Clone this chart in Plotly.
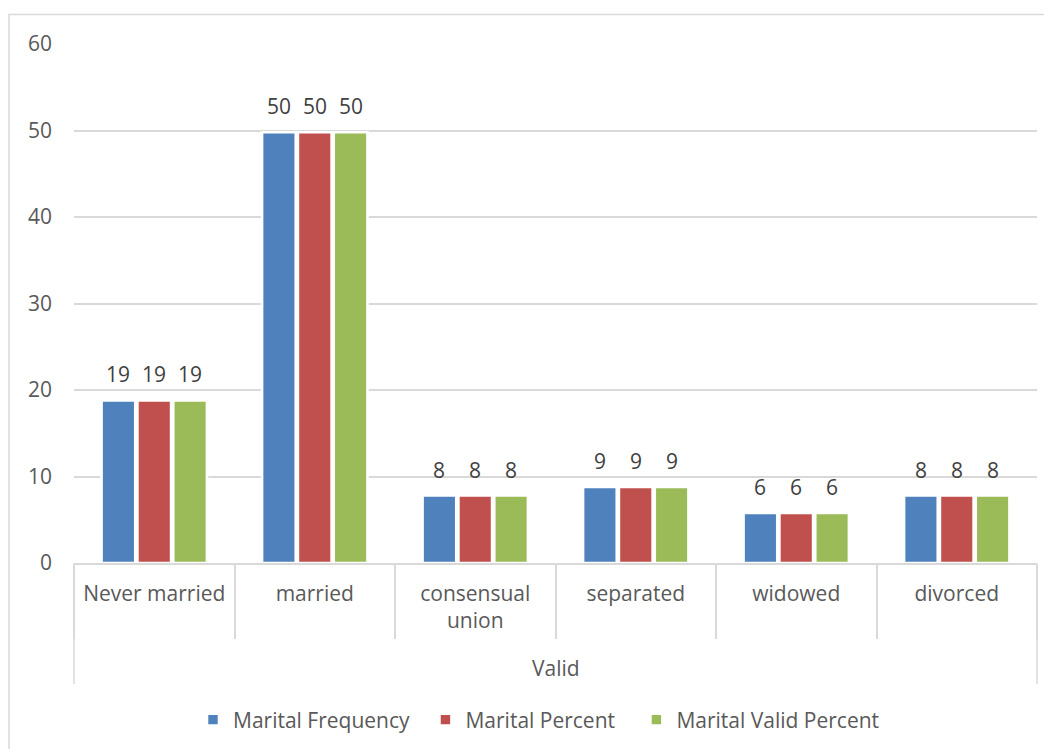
import plotly.graph_objects as go

# ---- data ----
categories = ["Never married", "married", "consensual<br>union", "separated", "widowed", "divorced"]
group_label = "Valid"
series_names = ["Marital Frequency", "Marital Percent", "Marital Valid Percent"]
marital_frequency = [18.8, 49.8, 7.8, 8.8, 5.8, 7.8]
marital_percent = [18.8, 49.8, 7.8, 8.8, 5.8, 7.8]
marital_valid_percent = [18.8, 49.8, 7.8, 8.8, 5.8, 7.8]
y_ticks = [0, 10, 20, 30, 40, 50, 60]

series_values = [marital_frequency, marital_percent, marital_valid_percent]
colors = ["#4F81BD", "#C0504D", "#9BBB59"]

# page has an 8px body margin; figure is sized to fill the rest of the window
PAGE_OFF = 8
W, H = 1052 - PAGE_OFF, 749 - PAGE_OFF
ML, MR, MT, MB = 74 - PAGE_OFF, 15, 44 - PAGE_OFF, 186
plot_w = W - ML - MR
plot_h = H - MT - MB
AXIS_Y = PAGE_OFF + MT + plot_h  # page y of the category axis


def page_y_to_paper(py):
    return (AXIS_Y - py) / plot_h


def page_x_to_paper(px):
    return (px - PAGE_OFF - ML) / plot_w


BARGAP = 0.33
FONT = "Open Sans"
TXT = "#595959"
GRID = "#D9D9D9"
FS = 21

fig = go.Figure()
for k, (name, vals, col) in enumerate(zip(series_names, series_values, colors)):
    pad = "\u00a0\u00a0" if k == 0 else "\u00a0\u00a0\u00a0"
    fig.add_trace(go.Bar(
        x=categories, y=vals, name=name + pad,
        marker=dict(color=col, line=dict(color="white", width=2.6)),
        hovertemplate=name + ": %{y}<extra></extra>",
    ))

# data labels above each bar
cat_px = plot_w / len(categories)
slot = (1 - BARGAP) * cat_px / len(series_names)
annotations = []
for j, vals in enumerate(series_values):
    off = (j - (len(series_names) - 1) / 2) * slot
    for c, v in zip(categories, vals):
        annotations.append(dict(
            x=c, y=v, xref="x", yref="y", text=f"{v:.0f}", showarrow=False,
            xanchor="center", yanchor="bottom", xshift=off, yshift=10,
            font=dict(family=FONT, size=FS, color="#404040"),
        ))

# group label
annotations.append(dict(
    x=0.5, y=page_y_to_paper(668), xref="paper", yref="paper",
    text=group_label, showarrow=False, xanchor="center", yanchor="middle",
    font=dict(family=FONT, size=FS, color=TXT),
))

shapes = [
    # chart frame
    dict(type="rect", xref="paper", yref="paper",
         x0=page_x_to_paper(9), x1=1.2, y0=-0.6, y1=page_y_to_paper(14.5),
         line=dict(color=GRID, width=1.5), fillcolor="rgba(0,0,0,0)", layer="below"),
]
for xp in (0, 1):
    shapes.append(dict(type="line", xref="paper", yref="paper",
                       x0=xp, x1=xp, y0=0, y1=page_y_to_paper(684),
                       line=dict(color=GRID, width=1.5)))

fig.update_layout(
    width=W, height=H,
    margin=dict(l=ML, r=MR, t=MT, b=MB, autoexpand=False),
    paper_bgcolor="white", plot_bgcolor="white",
    barmode="group", bargap=BARGAP, bargroupgap=0.06,
    font=dict(family=FONT, size=FS, color=TXT),
    showlegend=True,
    legend=dict(orientation="h", x=page_x_to_paper(193), xanchor="left",
                y=page_y_to_paper(720), yanchor="middle",
                font=dict(family=FONT, size=FS, color=TXT),
                itemclick=False, itemdoubleclick=False),
    annotations=annotations,
    shapes=shapes,
)
fig.update_xaxes(
    type="category", showgrid=False, showline=True, linecolor=GRID, linewidth=1.5,
    ticks="outside", tickson="boundaries", ticklen=74, tickcolor=GRID, tickwidth=1.5,
    ticklabelstandoff=11, tickfont=dict(family=FONT, size=FS, color=TXT),
    fixedrange=True, automargin=False,
)
fig.update_yaxes(
    range=[0, 60], tickvals=y_ticks, showgrid=True, gridcolor=GRID, gridwidth=1.5,
    zeroline=False, showline=False, ticks="", ticklabelstandoff=21,
    tickfont=dict(family=FONT, size=FS, color=TXT), fixedrange=True, automargin=False,
)

fig.write_html("out.html")
